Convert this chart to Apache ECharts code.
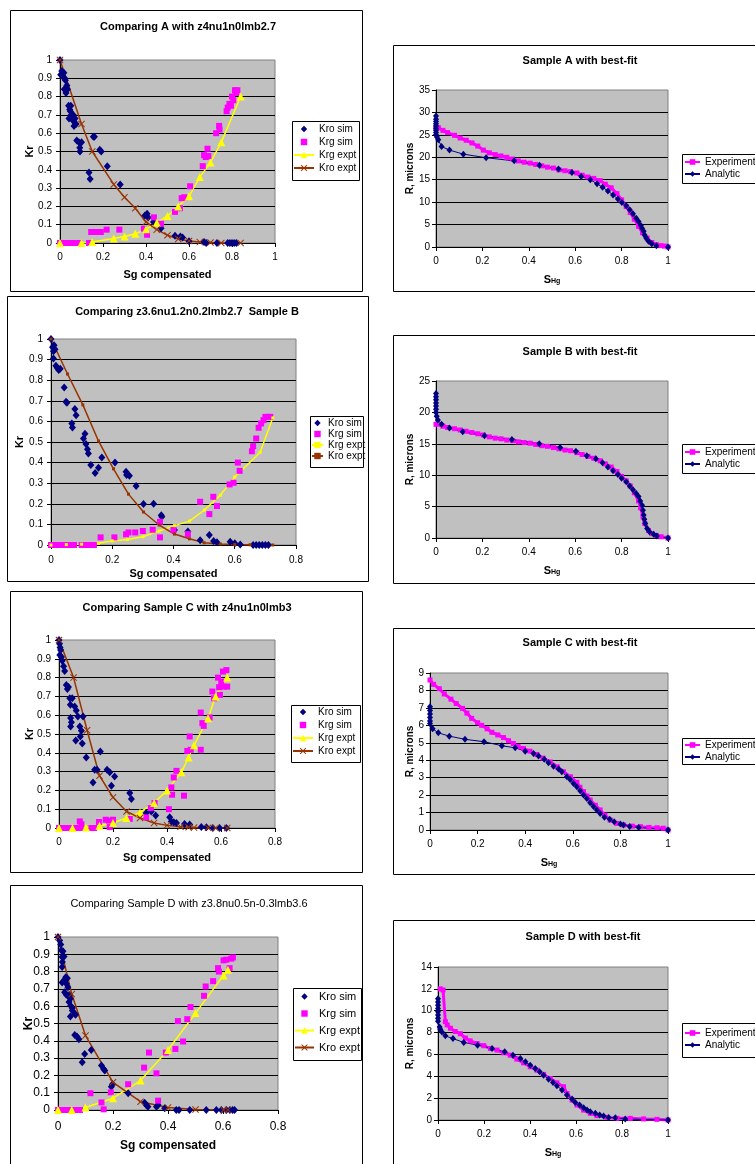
<!DOCTYPE html>
<html><head><meta charset="utf-8">
<script src="https://cdn.jsdelivr.net/npm/echarts@6/dist/echarts.min.js"></script>
<style>
html,body{margin:0;padding:0;background:#fff;overflow:hidden;width:755px;height:1164px;}
.c{position:absolute;}
</style></head><body>
<div id="kA" class="c"></div><div id="rA" class="c"></div>
<div id="kB" class="c"></div><div id="rB" class="c"></div>
<div id="kC" class="c"></div><div id="rC" class="c"></div>
<div id="kD" class="c"></div><div id="rD" class="c"></div>
<script>
// ---------- Kr charts (left column) ----------
const aKroSim = [[0,1],[0.003,0.92],[0.008,0.94],[0.012,0.91],[0.018,0.93],[0.022,0.9],[0.025,0.89],[0.02,0.84],[0.028,0.82],[0.032,0.86],[0.035,0.84],[0.04,0.75],[0.045,0.73],[0.05,0.75],[0.048,0.72],[0.042,0.68],[0.052,0.7],[0.058,0.69],[0.06,0.67],[0.062,0.7],[0.065,0.64],[0.07,0.68],[0.075,0.65],[0.078,0.56],[0.088,0.55],[0.092,0.52],[0.1,0.55],[0.093,0.5],[0.135,0.385],[0.14,0.35],[0.155,0.58],[0.16,0.58],[0.185,0.51],[0.192,0.5],[0.22,0.42],[0.28,0.32],[0.395,0.15],[0.405,0.16],[0.41,0.14],[0.435,0.115],[0.47,0.08],[0.535,0.04],[0.56,0.035],[0.57,0.03],[0.6,0.01],[0.67,0.005],[0.68,0],[0.73,0],[0.78,0],[0.79,0],[0.8,0],[0.81,0],[0.82,0]];
const aKrgSim = [[0,0],[0.01,0],[0.02,0],[0.03,0],[0.04,0],[0.05,0],[0.06,0],[0.07,0],[0.08,0],[0.09,0],[0.135,0],[0.145,0.06],[0.16,0.06],[0.175,0.06],[0.19,0.06],[0.217,0.073],[0.276,0.073],[0.39,0.078],[0.405,0.045],[0.437,0.14],[0.47,0.105],[0.535,0.17],[0.558,0.19],[0.566,0.245],[0.578,0.25],[0.605,0.31],[0.664,0.42],[0.67,0.48],[0.678,0.47],[0.686,0.515],[0.69,0.475],[0.726,0.6],[0.74,0.64],[0.742,0.62],[0.775,0.72],[0.78,0.74],[0.788,0.76],[0.795,0.75],[0.8,0.8],[0.806,0.78],[0.814,0.835],[0.82,0.82],[0.825,0.835]];
const aKrgExpt = [[0,0],[0.1,0],[0.15,0.005],[0.25,0.025],[0.3,0.035],[0.35,0.05],[0.4,0.075],[0.45,0.11],[0.5,0.148],[0.55,0.2],[0.6,0.255],[0.65,0.36],[0.7,0.44],[0.75,0.55],[0.84,0.8]];
const aKroExpt = [[0,1],[0.1,0.65],[0.15,0.5],[0.25,0.32],[0.3,0.25],[0.35,0.19],[0.4,0.115],[0.45,0.073],[0.5,0.042],[0.55,0.022],[0.6,0.011],[0.65,0.005],[0.7,0.003],[0.75,0],[0.84,0]];

const bKroSim = [[0,1],[0.005,0.96],[0.008,0.94],[0.01,0.97],[0.013,0.95],[0.008,0.905],[0.016,0.87],[0.02,0.86],[0.025,0.85],[0.03,0.855],[0.043,0.765],[0.049,0.695],[0.052,0.69],[0.068,0.59],[0.07,0.57],[0.078,0.66],[0.082,0.63],[0.106,0.517],[0.111,0.54],[0.114,0.49],[0.119,0.465],[0.122,0.444],[0.13,0.388],[0.144,0.35],[0.155,0.375],[0.166,0.425],[0.209,0.4],[0.245,0.355],[0.247,0.34],[0.256,0.336],[0.278,0.286],[0.302,0.199],[0.335,0.2],[0.36,0.145],[0.362,0.137],[0.403,0.073],[0.447,0.065],[0.487,0.023],[0.517,0.048],[0.531,0.02],[0.542,0.013],[0.585,0.016],[0.6,0.008],[0.618,0.003],[0.66,0],[0.67,0],[0.68,0],[0.69,0],[0.7,0],[0.71,0]];
const bKrgSim = [[0,0],[0.01,0],[0.02,0],[0.03,0],[0.045,0],[0.06,0],[0.075,0],[0.1,0],[0.11,0],[0.12,0],[0.13,0],[0.14,0],[0.162,0.037],[0.207,0.037],[0.245,0.052],[0.253,0.061],[0.275,0.061],[0.3,0.068],[0.332,0.074],[0.356,0.113],[0.356,0.037],[0.4,0.073],[0.447,0.053],[0.487,0.21],[0.517,0.15],[0.53,0.234],[0.542,0.189],[0.583,0.294],[0.596,0.302],[0.61,0.4],[0.616,0.36],[0.656,0.455],[0.66,0.48],[0.67,0.517],[0.678,0.569],[0.686,0.59],[0.694,0.606],[0.7,0.622],[0.708,0.622],[0.716,0.622]];
const bKrgExpt = [[0,0],[0.05,0.002],[0.1,0.004],[0.155,0.008],[0.2,0.02],[0.25,0.027],[0.3,0.04],[0.353,0.068],[0.403,0.094],[0.452,0.116],[0.501,0.17],[0.553,0.242],[0.6,0.33],[0.683,0.45],[0.724,0.617]];
const bKroExpt = [[0,1],[0.054,0.83],[0.104,0.68],[0.155,0.505],[0.204,0.37],[0.253,0.247],[0.302,0.16],[0.353,0.097],[0.403,0.053],[0.452,0.03],[0.5,0.011],[0.553,0.005],[0.6,0.002],[0.65,0.001],[0.724,0]];

const cKroSim = [[0,1],[0.002,0.98],[0.004,0.96],[0.006,0.947],[0.003,0.92],[0.009,0.91],[0.012,0.89],[0.017,0.86],[0.021,0.835],[0.027,0.76],[0.031,0.74],[0.035,0.75],[0.04,0.69],[0.049,0.69],[0.042,0.655],[0.058,0.646],[0.064,0.625],[0.07,0.593],[0.043,0.585],[0.046,0.563],[0.043,0.54],[0.062,0.465],[0.077,0.54],[0.079,0.487],[0.083,0.517],[0.089,0.593],[0.086,0.45],[0.101,0.375],[0.132,0.31],[0.141,0.31],[0.126,0.242],[0.153,0.407],[0.178,0.31],[0.188,0.296],[0.194,0.225],[0.206,0.274],[0.262,0.186],[0.268,0.154],[0.323,0.08],[0.342,0.088],[0.358,0.067],[0.41,0.057],[0.416,0.035],[0.425,0.03],[0.435,0.027],[0.465,0.021],[0.484,0.018],[0.527,0.005],[0.546,0.004],[0.57,0],[0.595,0],[0.62,0]];
const cKrgSim = [[0,0],[0.01,0],[0.02,0],[0.03,0],[0.04,0],[0.06,0],[0.08,0],[0.12,0],[0.13,0],[0.077,0.035],[0.083,0.02],[0.148,0.032],[0.173,0.044],[0.185,0.039],[0.2,0.044],[0.188,0.005],[0.262,0.048],[0.323,0.057],[0.34,0.106],[0.354,0.133],[0.407,0.1],[0.419,0.177],[0.416,0.216],[0.425,0.269],[0.435,0.304],[0.463,0.172],[0.475,0.41],[0.484,0.487],[0.488,0.416],[0.525,0.416],[0.525,0.614],[0.531,0.558],[0.536,0.543],[0.558,0.588],[0.568,0.726],[0.574,0.69],[0.589,0.8],[0.593,0.749],[0.596,0.708],[0.601,0.779],[0.607,0.832],[0.61,0.752],[0.62,0.84],[0.623,0.752]];
const cKrgExpt = [[0,0],[0.05,0],[0.1,0.003],[0.15,0.012],[0.2,0.027],[0.25,0.053],[0.3,0.083],[0.352,0.133],[0.4,0.2],[0.453,0.296],[0.48,0.375],[0.5,0.44],[0.552,0.584],[0.58,0.7],[0.623,0.8]];
const cKroExpt = [[0,1],[0.054,0.8],[0.104,0.52],[0.15,0.278],[0.2,0.163],[0.25,0.088],[0.3,0.053],[0.352,0.027],[0.4,0.014],[0.45,0.006],[0.48,0.004],[0.5,0.002],[0.552,0.001],[0.58,0],[0.623,0]];

const dKroSim = [[0,1],[0.006,0.98],[0.01,0.956],[0.012,0.923],[0.018,0.917],[0.015,0.884],[0.022,0.888],[0.016,0.855],[0.015,0.826],[0.015,0.737],[0.024,0.753],[0.028,0.768],[0.034,0.762],[0.03,0.73],[0.036,0.71],[0.024,0.681],[0.03,0.666],[0.036,0.66],[0.042,0.666],[0.045,0.643],[0.04,0.624],[0.046,0.602],[0.052,0.589],[0.045,0.54],[0.052,0.575],[0.061,0.556],[0.064,0.55],[0.061,0.434],[0.069,0.425],[0.076,0.409],[0.088,0.276],[0.097,0.324],[0.121,0.347],[0.158,0.257],[0.166,0.237],[0.17,0.228],[0.194,0.135],[0.198,0.149],[0.255,0.097],[0.315,0.042],[0.321,0.029],[0.327,0.019],[0.358,0.019],[0.364,0.029],[0.388,0.01],[0.43,0],[0.44,0],[0.479,0],[0.539,0],[0.576,0],[0.594,0],[0.612,0],[0.625,0],[0.635,0],[0.642,0]];
const dKrgSim = [[0,0],[0.01,0],[0.02,0],[0.03,0],[0.04,0],[0.06,0],[0.07,0],[0.08,0],[0.118,0.097],[0.158,0.044],[0.166,0.004],[0.192,0.102],[0.255,0.149],[0.313,0.245],[0.331,0.332],[0.358,0.212],[0.364,0.054],[0.392,0.332],[0.427,0.353],[0.436,0.514],[0.455,0.396],[0.47,0.525],[0.482,0.595],[0.531,0.66],[0.537,0.714],[0.564,0.745],[0.582,0.82],[0.585,0.8],[0.602,0.865],[0.612,0.869],[0.624,0.82],[0.63,0.875],[0.636,0.882]];
const dKrgExpt = [[0,0],[0.05,0],[0.1,0.014],[0.2,0.068],[0.3,0.17],[0.4,0.347],[0.5,0.56],[0.602,0.778],[0.618,0.81]];
const dKroExpt = [[0,1],[0.05,0.67],[0.1,0.43],[0.2,0.16],[0.3,0.048],[0.4,0.014],[0.5,0.003],[0.602,0],[0.618,0]];

// ---------- R vs S_Hg charts (right column) ----------
const rAExp = [[0,26.7],[0.01,26.6],[0.03,26],[0.05,25.5],[0.08,24.9],[0.104,24.3],[0.13,23.8],[0.155,23.2],[0.18,22.5],[0.204,21.6],[0.23,21],[0.255,20.6],[0.28,20.3],[0.305,20],[0.33,19.6],[0.355,19.2],[0.38,18.9],[0.406,18.7],[0.43,18.4],[0.456,18.1],[0.48,17.8],[0.506,17.6],[0.53,17.2],[0.556,17],[0.58,16.8],[0.607,16.5],[0.63,16],[0.655,15.6],[0.68,15.3],[0.708,14.8],[0.73,14],[0.755,13.2],[0.78,11.9],[0.8,10.5],[0.82,9],[0.837,7.7],[0.855,6.2],[0.873,4.6],[0.89,3.2],[0.91,2],[0.93,1],[0.95,0.5],[0.97,0.3],[0.985,0.2],[1,0]];
const rAAna = [[0,29.2],[0,28.5],[0,28],[0,27.5],[0,27],[0,26.5],[0,26],[0,25.5],[0,25],[0.004,24.5],[0.01,23.9],[0.024,22.4],[0.058,21.6],[0.118,20.7],[0.216,19.9],[0.337,19.2],[0.446,18.2],[0.528,17.4],[0.586,16.6],[0.626,15.7],[0.665,15],[0.694,14.1],[0.718,13.3],[0.741,12.5],[0.763,11.6],[0.784,10.7],[0.801,9.9],[0.82,9.2],[0.835,8.3],[0.849,7.4],[0.863,6.4],[0.873,5.7],[0.883,4.8],[0.888,4.2],[0.895,3.5],[0.899,2.7],[0.906,2],[0.916,1.3],[0.93,0.7],[0.95,0.3],[1,0]];
const rBExp = [[0,18.1],[0.03,17.8],[0.05,17.6],[0.08,17.4],[0.104,17.2],[0.13,17],[0.155,16.8],[0.18,16.6],[0.204,16.4],[0.23,16.1],[0.255,15.9],[0.28,15.8],[0.305,15.6],[0.33,15.5],[0.355,15.3],[0.38,15.2],[0.406,15.1],[0.43,14.9],[0.456,14.7],[0.48,14.6],[0.506,14.4],[0.53,14.2],[0.556,14],[0.58,13.9],[0.607,13.6],[0.63,13.3],[0.655,13],[0.68,12.7],[0.708,12.3],[0.73,11.8],[0.755,11.3],[0.78,10.6],[0.8,9.8],[0.82,9.1],[0.837,8.3],[0.855,7.2],[0.873,5.9],[0.882,4.8],[0.892,3.4],[0.9,2.3],[0.916,1.2],[0.93,0.7],[0.95,0.4],[0.97,0.2],[1,0]];
const rBAna = [[0,23],[0,22.5],[0,22],[0,21.5],[0,21],[0,20.5],[0,20],[0.003,19.4],[0.008,18.8],[0.024,18.1],[0.058,17.5],[0.115,16.9],[0.209,16.3],[0.327,15.7],[0.445,15],[0.535,14.4],[0.603,13.8],[0.65,13.1],[0.689,12.6],[0.718,12],[0.741,11.3],[0.763,10.7],[0.784,10.1],[0.8,9.5],[0.82,8.95],[0.835,8.3],[0.849,7.7],[0.863,7.1],[0.873,6.6],[0.88,5.9],[0.888,5.2],[0.892,4.4],[0.895,3.65],[0.898,3],[0.902,2.3],[0.91,1.5],[0.92,1],[0.938,0.6],[0.952,0.3],[1,0]];
const rCExp = [[0,8.6],[0.015,8.35],[0.039,8.1],[0.06,7.8],[0.088,7.5],[0.11,7.25],[0.137,6.97],[0.155,6.7],[0.175,6.4],[0.2,6.15],[0.217,6],[0.24,5.8],[0.26,5.6],[0.285,5.45],[0.309,5.3],[0.33,5.12],[0.35,4.96],[0.37,4.8],[0.393,4.67],[0.42,4.52],[0.449,4.33],[0.475,4.12],[0.505,3.9],[0.535,3.62],[0.561,3.34],[0.59,3.05],[0.617,2.73],[0.63,2.45],[0.645,2.2],[0.66,1.95],[0.673,1.72],[0.695,1.42],[0.715,1.15],[0.735,0.85],[0.757,0.57],[0.785,0.38],[0.813,0.29],[0.85,0.22],[0.884,0.19],[0.92,0.15],[0.954,0.13],[0.98,0.1],[1,0]];
const rCAna = [[0,7.06],[0,6.85],[0,6.65],[0,6.45],[0,6.25],[0,6.1],[0.011,5.8],[0.035,5.57],[0.081,5.38],[0.147,5.2],[0.227,5.06],[0.302,4.83],[0.358,4.71],[0.4,4.52],[0.435,4.39],[0.456,4.24],[0.48,4.05],[0.498,3.85],[0.519,3.66],[0.54,3.49],[0.554,3.34],[0.575,3.05],[0.589,2.9],[0.603,2.67],[0.617,2.48],[0.631,2.25],[0.645,2],[0.659,1.81],[0.673,1.56],[0.687,1.34],[0.701,1.15],[0.715,0.95],[0.733,0.73],[0.755,0.61],[0.774,0.48],[0.8,0.34],[0.813,0.29],[0.839,0.2],[0.877,0.15],[1,0]];
const rDExp = [[0.01,12],[0.022,11.9],[0.032,9],[0.04,8.7],[0.054,8.4],[0.075,8.1],[0.097,7.9],[0.119,7.5],[0.14,7.24],[0.17,7],[0.199,6.8],[0.228,6.54],[0.257,6.4],[0.286,6.15],[0.314,5.93],[0.343,5.57],[0.372,5.23],[0.401,4.87],[0.43,4.56],[0.459,4.17],[0.488,3.8],[0.517,3.4],[0.546,3.04],[0.561,2.43],[0.583,1.83],[0.604,1.37],[0.633,0.91],[0.662,0.61],[0.691,0.4],[0.735,0.24],[0.778,0.15],[0.836,0.15],[0.894,0.1],[0.952,0.06],[1,0]];
const rDAna = [[0,11.1],[0,10.8],[0,10.5],[0,10.2],[0,9.9],[0,9.6],[0,9.3],[0,9.04],[0.007,8.5],[0.01,8.3],[0.017,8.06],[0.032,7.7],[0.065,7.45],[0.112,7.1],[0.172,6.85],[0.235,6.54],[0.29,6.24],[0.326,5.93],[0.358,5.63],[0.38,5.33],[0.401,5.02],[0.423,4.72],[0.442,4.41],[0.459,4.1],[0.481,3.74],[0.5,3.44],[0.517,3.13],[0.539,2.74],[0.561,2.28],[0.583,1.92],[0.597,1.61],[0.616,1.37],[0.633,1.13],[0.648,0.91],[0.662,0.76],[0.684,0.61],[0.703,0.46],[0.72,0.37],[0.742,0.24],[0.771,0.21],[0.814,0.09],[1,0]];

const FONT = '"Liberation Sans", Arial, sans-serif';
const X_SYMBOL = 'path://M0,1L1,0L5,4L9,0L10,1L6,5L10,9L9,10L5,6L1,10L0,9L4,5Z';
const NO_LINE = {width:0, opacity:0};

function krSeries(kroSim, krgSim, krgExpt, kroExpt, small) {
  return [
    {name:'Kro sim', type:'line', data:kroSim, symbol:'diamond', symbolSize:[7,8], itemStyle:{color:'#000080'},
      lineStyle:NO_LINE, clip:false},
    {name:'Krg sim', type:'line', data:krgSim, symbol:'rect', symbolSize:[6,6], itemStyle:{color:'#FF00FF'},
      lineStyle:NO_LINE, clip:false},
    {name:'Krg expt', type:'line', data:krgExpt, symbol: small ? 'rect' : 'triangle', symbolSize: small ? 3 : 8,
      itemStyle:{color:'#FFFF00'}, lineStyle:{color:'#FFFF00', width:1.5}, clip:false},
    {name:'Kro expt', type:'line', data:kroExpt, symbol: small ? 'rect' : X_SYMBOL, symbolSize: small ? 3 : 7,
      itemStyle:{color:'#993300'}, lineStyle:{color:'#993300', width:1.5}, clip:false}
  ];
}
function rSeries(exp, ana) {
  return [
    {name:'Experimental', type:'line', data:exp, symbol:'rect', symbolSize:5, itemStyle:{color:'#FF00FF'},
      lineStyle:{color:'#FF00FF', width:3}, clip:false},
    {name:'Analytic', type:'line', data:ana, symbol:'diamond', symbolSize:[6,7], itemStyle:{color:'#000080'},
      lineStyle:{color:'#000080', width:1}, clip:false}
  ];
}

function build(c) {
  const el = document.getElementById(c.id);
  el.style.left = c.frame[0] + 'px'; el.style.top = c.frame[1] + 'px';
  el.style.width = c.frame[2] + 'px'; el.style.height = c.frame[3] + 'px';
  const chart = echarts.init(el, null, {renderer:'canvas'});
  const lb = c.legendBox;
  const names = c.series.map(s => s.name);
  const axisBase = {
    type:'value',
    axisLine:{show:true, onZero:false, lineStyle:{color:'#000', width:1}},
    axisTick:{show:true, inside:false, length:4, lineStyle:{color:'#000'}},
    axisLabel:{color:'#000', fontSize:c.tickFont, fontFamily:FONT},
    nameLocation:'middle',
    nameMoveOverlap:false,
    nameTextStyle:{color:'#000', fontFamily:FONT, fontWeight:'bold', fontSize:c.nameFont}
  };
  chart.setOption({
    animation:false,
    backgroundColor:'#fff',
    textStyle:{fontFamily:FONT},
    graphic:[
      {type:'rect', silent:true, z:100, shape:{x:0.5, y:0.5, width:c.frame[2]-1, height:c.frame[3]-1},
        style:{fill:'none', stroke:'#000', lineWidth:1}},
      {type:'rect', silent:true, z:1, shape:{x:lb[0]+0.5, y:lb[1]+0.5, width:lb[2], height:lb[3]},
        style:{fill:'#fff', stroke:'#000', lineWidth:1}},
      {type:'text', silent:true, z:2, x:c.titleXY[0], y:c.titleXY[1],
        style:{text:c.title, fill:'#000', fontFamily:FONT, fontSize:c.titleFont, fontWeight:c.titleWeight,
          align:'center', verticalAlign:'middle'}}
    ],
    grid:{left:c.grid[0], top:c.grid[1], width:c.grid[2], height:c.grid[3], show:true,
      backgroundColor:'#C0C0C0', borderColor:'#808080', borderWidth:1, containLabel:false, outerBoundsMode:'none'},
    xAxis:Object.assign({}, axisBase, {
      min:0, max:c.xMax, interval:0.2, name:c.xName, nameGap:c.xNameGap,
      axisLabel:Object.assign({}, axisBase.axisLabel, {margin:c.xLabelMargin}),
      splitLine:{show:false},
      nameTextStyle:Object.assign({}, axisBase.nameTextStyle, c.xNameStyle || {})
    }),
    yAxis:Object.assign({}, axisBase, {
      min:0, max:c.yMax, interval:c.yInterval, name:c.yName, nameGap:c.yNameGap,
      axisLabel:Object.assign({}, axisBase.axisLabel, {margin:c.yLabelMargin}),
      splitLine:{show:true, showMinLine:false, showMaxLine:false, lineStyle:{color:'#000', width:1}}
    }),
    legend:{show:true, orient:'vertical', left:c.legendPos[0], top:c.legendPos[1], padding:0,
      itemWidth:c.legendIconW, itemHeight:c.legendIconH, itemGap:c.legendGap, selectedMode:false, data:names,
      textStyle:{color:'#000', fontSize:c.legendFont, fontFamily:FONT}},
    series:c.series
  });
}

const SHG = {text:'{a|S}{b|Hg}', style:{rich:{
  a:{fontSize:11, fontWeight:'bold', fontFamily:FONT, color:'#000', verticalAlign:'bottom', lineHeight:13},
  b:{fontSize:7, fontWeight:'bold', fontFamily:FONT, color:'#000', verticalAlign:'bottom', lineHeight:10}}}};

const leftCommon = {xName:'Sg compensated', yName:'Kr', yMax:1, yInterval:0.1, tickFont:10, nameFont:11,
  titleFont:11, titleWeight:'bold', xLabelMargin:9, yLabelMargin:8, legendFont:10, legendIconW:20, legendIconH:8, legendGap:3};
const rightCommon = {xName:SHG.text, xNameStyle:SHG.style, yName:'R, microns', xMax:1, tickFont:10, nameFont:10,
  titleFont:11, titleWeight:'bold', xLabelMargin:9, yLabelMargin:6, legendFont:10, legendIconW:15, legendIconH:7, legendGap:2};

build(Object.assign({}, leftCommon, {id:'kA', frame:[10,10,353,282], grid:[50,50,215,183], xMax:1,
  title:'Comparing A with z4nu1n0lmb2.7', titleXY:[178,17], xNameGap:26, yNameGap:25,
  legendBox:[282,111,67,59], legendPos:[283,114], series:krSeries(aKroSim, aKrgSim, aKrgExpt, aKroExpt, false)}));
build(Object.assign({}, leftCommon, {id:'kB', frame:[7,296,362,286], grid:[44,43,245,206], xMax:0.8,
  title:'Comparing z3.6nu1.2n0.2lmb2.7  Sample B', titleXY:[180,16], xNameGap:23, xLabelMargin:10, yNameGap:26,
  legendBox:[303,120,53,51], legendPos:[304,122], legendIconW:11, legendGap:1,
  series:krSeries(bKroSim, bKrgSim, bKrgExpt, bKroExpt, true)}));
build(Object.assign({}, leftCommon, {id:'kC', frame:[10,591,353,282], grid:[49,49,216,188], xMax:0.8,
  title:'Comparing Sample C with z4nu1n0lmb3', titleXY:[177,17], xNameGap:24, yNameGap:24,
  legendBox:[281,114,69,57], legendPos:[282,116], series:krSeries(cKroSim, cKrgSim, cKrgExpt, cKroExpt, false)}));
build(Object.assign({}, leftCommon, {id:'kD', frame:[10,885,353,300], grid:[48,52,220,173], xMax:0.8,
  title:'Comparing Sample D with z3.8nu0.5n-0.3lmb3.6', titleXY:[179,19], titleWeight:'normal',
  tickFont:12, nameFont:12, xLabelMargin:11, yLabelMargin:8, xNameGap:30, yNameGap:23, legendFont:11, legendGap:6,
  legendIconW:19, legendBox:[283,103,68,72], legendPos:[284,106], series:krSeries(dKroSim, dKrgSim, dKrgExpt, dKroExpt, false)}));

build(Object.assign({}, rightCommon, {id:'rA', frame:[393,45,380,247], grid:[43,45,232,157], yMax:35, yInterval:5,
  title:'Sample A with best-fit', titleXY:[187,16], xNameGap:25, yNameGap:21,
  legendBox:[289,109,100,29], legendPos:[291,112], series:rSeries(rAExp, rAAna)}));
build(Object.assign({}, rightCommon, {id:'rB', frame:[393,335,380,249], grid:[43,46,232,157], yMax:25, yInterval:5,
  title:'Sample B with best-fit', titleXY:[187,17], xNameGap:25, yNameGap:21,
  legendBox:[289,109,100,29], legendPos:[291,112], series:rSeries(rBExp, rBAna)}));
build(Object.assign({}, rightCommon, {id:'rC', frame:[393,628,380,247], grid:[37,45,238,157], yMax:9, yInterval:1,
  title:'Sample C with best-fit', titleXY:[187,15], xNameGap:25, yNameGap:15,
  legendBox:[289,110,100,26], legendPos:[291,112], series:rSeries(rCExp, rCAna)}));
build(Object.assign({}, rightCommon, {id:'rD', frame:[393,920,380,260], grid:[45,47,230,153], yMax:14, yInterval:2,
  title:'Sample D with best-fit', titleXY:[190,17], xNameGap:25, yNameGap:23,
  legendBox:[289,103,100,34], legendPos:[291,108], series:rSeries(rDExp, rDAna)}));
</script>
</body></html>
